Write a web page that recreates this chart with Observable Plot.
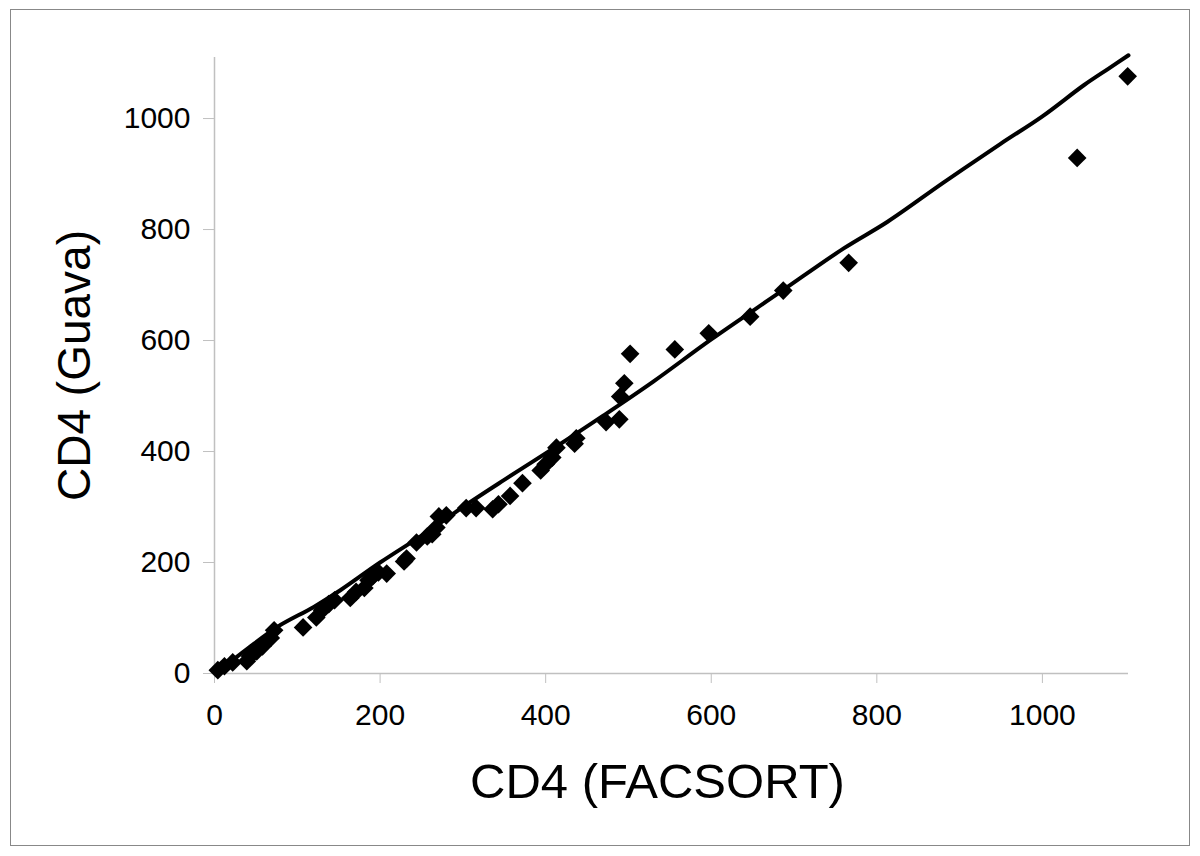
<!DOCTYPE html>
<html>
<head>
<meta charset="utf-8">
<script src="https://cdn.jsdelivr.net/npm/d3@7"></script>
<script src="https://cdn.jsdelivr.net/npm/@observablehq/plot@0.6"></script>
<style>
  html, body { margin: 0; padding: 0; background: #fff; }
  #chart { position: relative; width: 1200px; height: 856px; }
  svg { font-family: "Liberation Sans", Arial, sans-serif; }
</style>
</head>
<body>
<div id="chart"></div>
<script>
// CD4 counts: FACSORT (x) vs Guava (y)
const facsort = [4, 12, 22, 39, 43, 51, 58, 68, 72, 107, 123, 130, 138, 145, 164, 171, 181, 186, 191, 198, 208, 229, 232, 244, 257, 263, 268, 271, 280, 304, 316, 336, 343, 357, 372, 394, 400, 408, 413, 435, 437, 473, 489, 490, 495, 502, 556, 597, 647, 687, 766, 1042, 1103];
const guava   = [6, 13, 20, 22, 31, 40, 49, 64, 78, 83, 101, 114, 125, 132, 136, 147, 154, 168, 175, 182, 180, 202, 207, 236, 247, 251, 263, 283, 285, 298, 298, 296, 305, 320, 343, 366, 377, 389, 407, 414, 424, 453, 458, 499, 523, 576, 584, 613, 643, 690, 740, 929, 1076];

// trend line
const lineX = [8, 40, 76, 120, 152, 200, 260, 300, 349, 414, 470, 530, 600, 684, 760, 813, 880, 949, 1000, 1050, 1080, 1104];
const lineY = [8, 45, 84, 120, 150, 200, 258, 300, 348, 410, 465, 526, 602, 688, 766, 814, 884, 954, 1004, 1060, 1090, 1114];

const xTicks = [0, 200, 400, 600, 800, 1000];
const yTicks = [0, 200, 400, 600, 800, 1000];
const xTitle = "CD4 (FACSORT)";
const yTitle = "CD4 (Guava)";

const points = facsort.map((x, i) => ({x, y: guava[i]}));
const trend = lineX.map((x, i) => ({x, y: lineY[i]}));

const axisGray = "#c0c0c0";

const chart = Plot.plot({
  width: 1200,
  height: 856,
  marginLeft: 214,
  marginRight: 72,
  marginTop: 57,
  marginBottom: 183,
  style: {background: "transparent", fontFamily: "'Liberation Sans', Arial, sans-serif"},
  x: {domain: [0, 1104], axis: null},
  y: {domain: [0, 1110], axis: null},
  marks: [
    Plot.ruleX([0], {stroke: axisGray, strokeWidth: 1.5}),
    Plot.ruleY([0], {stroke: axisGray, strokeWidth: 1.5}),
    Plot.axisX({ticks: xTicks, tickSize: 10, tickPadding: 20, fontSize: 30, stroke: axisGray, color: "#000", label: null, tickFormat: d => String(d)}),
    Plot.axisY({ticks: yTicks, tickSize: 11, tickPadding: 13, fontSize: 30, stroke: axisGray, color: "#000", label: null, tickFormat: d => String(d)}),
    Plot.dot(points, {x: "x", y: "y", symbol: "diamond2", r: 8.4, fill: "#000", stroke: "none"}),
    Plot.line(trend, {x: "x", y: "y", stroke: "#000", strokeWidth: 4, curve: "catmull-rom", clip: false}),
    Plot.text([xTitle], {frameAnchor: "bottom", dx: -14, dy: 109, fontSize: 49, fill: "#000", textAnchor: "middle", lineAnchor: "middle"}),
    Plot.text([yTitle], {frameAnchor: "left", dx: -139, rotate: -90, fontSize: 46, fill: "#000", textAnchor: "middle", lineAnchor: "middle"})
  ]
});

document.getElementById("chart").appendChild(chart);

// outer border of the figure
d3.select(chart).append("rect")
  .attr("x", 10.5).attr("y", 9.5)
  .attr("width", 1179).attr("height", 836)
  .attr("fill", "none").attr("stroke", "#888").attr("stroke-width", 1);
</script>
</body>
</html>
